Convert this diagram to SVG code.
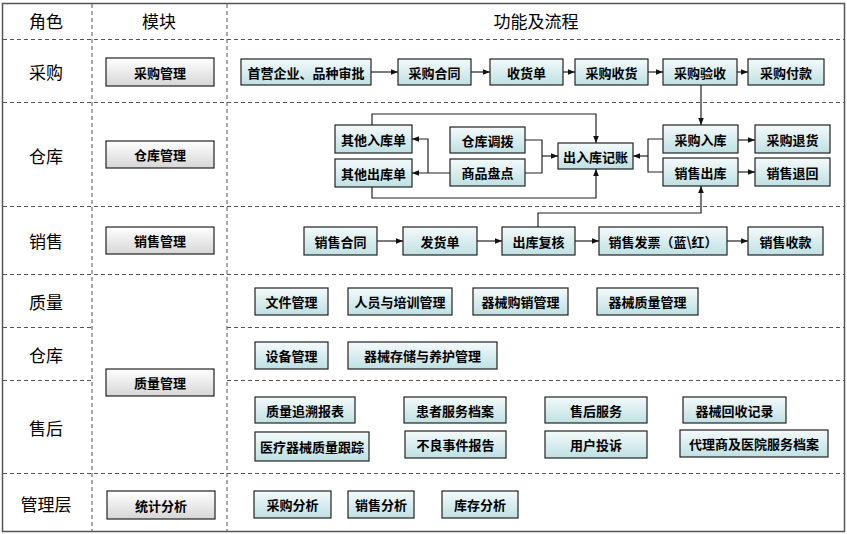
<svg xmlns="http://www.w3.org/2000/svg" width="847" height="534" viewBox="0 0 847 534">
<defs>
<linearGradient id="gFlow" x1="0" y1="0" x2="0" y2="1">
<stop offset="0" stop-color="#f4fafb"/>
<stop offset="1" stop-color="#bfe0e3"/>
</linearGradient>
<linearGradient id="gMod" x1="0" y1="0" x2="0" y2="1">
<stop offset="0" stop-color="#ffffff"/>
<stop offset="1" stop-color="#d6d6d6"/>
</linearGradient>
<marker id="arr" viewBox="0 0 10 10" refX="10" refY="5" markerWidth="7" markerHeight="7" orient="auto" markerUnits="userSpaceOnUse">
<path d="M0,1 L10,5 L0,9 z" fill="#111"/>
</marker>
</defs>
<style>
.frame{fill:#fff;stroke:#555;stroke-width:1.5}
.grid{stroke:#555;stroke-width:1;stroke-dasharray:4,3;fill:none}
.role{font-family:"Noto Sans CJK SC","Noto Sans",sans-serif;font-size:17px;fill:#000;text-anchor:middle;dominant-baseline:central}
.flow rect{fill:url(#gFlow);stroke:#222;stroke-width:1.2}
.mod rect{fill:url(#gMod);stroke:#222;stroke-width:1.2}
.lbl{font-family:"Noto Sans CJK SC","Noto Sans",sans-serif;font-size:13px;font-weight:bold;fill:#000;text-anchor:middle;dominant-baseline:central}
.con{stroke:#222;stroke-width:1.2;fill:none}
</style>
<rect class="frame" x="2.5" y="3.5" width="842" height="528"/>
<g id="grid">
<line class="grid" x1="92" y1="4" x2="92" y2="531"/>
<line class="grid" x1="227" y1="4" x2="227" y2="531"/>
<line class="grid" x1="3" y1="39.5" x2="844" y2="39.5"/>
<line class="grid" x1="3" y1="102.5" x2="844" y2="102.5"/>
<line class="grid" x1="3" y1="206.5" x2="844" y2="206.5"/>
<line class="grid" x1="3" y1="274.5" x2="844" y2="274.5"/>
<line class="grid" x1="3" y1="327.5" x2="92" y2="327.5"/>
<line class="grid" x1="227" y1="327.5" x2="844" y2="327.5"/>
<line class="grid" x1="3" y1="380.5" x2="92" y2="380.5"/>
<line class="grid" x1="227" y1="380.5" x2="844" y2="380.5"/>
<line class="grid" x1="3" y1="473.5" x2="844" y2="473.5"/>
</g>
<g id="headers">
<text class="role" x="46" y="20">角色</text>
<text class="role" x="159" y="20">模块</text>
<text class="role" x="536" y="20">功能及流程</text>
<text class="role" x="46" y="71">采购</text>
<text class="role" x="46" y="155">仓库</text>
<text class="role" x="46" y="240">销售</text>
<text class="role" x="46" y="301">质量</text>
<text class="role" x="46" y="354">仓库</text>
<text class="role" x="46" y="427">售后</text>
<text class="role" x="46" y="503">管理层</text>
</g>
<g id="m1" class="mod"><rect x="106" y="58" width="108" height="28"/><text class="lbl" x="160" y="72">采购管理</text></g>
<g id="m2" class="mod"><rect x="106" y="141" width="108" height="27"/><text class="lbl" x="160" y="154.5">仓库管理</text></g>
<g id="m3" class="mod"><rect x="106" y="227" width="108" height="27"/><text class="lbl" x="160" y="240.5">销售管理</text></g>
<g id="m4" class="mod"><rect x="106" y="369" width="108" height="27"/><text class="lbl" x="160" y="382.5">质量管理</text></g>
<g id="m5" class="mod"><rect x="107" y="491" width="108" height="28"/><text class="lbl" x="161" y="505">统计分析</text></g>

<g id="p1" class="flow"><rect x="241" y="59" width="130" height="26"/><text class="lbl" x="306" y="72">首营企业、品种审批</text></g>
<g id="p2" class="flow"><rect x="398" y="59" width="73" height="26"/><text class="lbl" x="434.5" y="72">采购合同</text></g>
<g id="p3" class="flow"><rect x="490" y="59" width="73" height="26"/><text class="lbl" x="526.5" y="72">收货单</text></g>
<g id="p4" class="flow"><rect x="575" y="59" width="73" height="26"/><text class="lbl" x="611.5" y="72">采购收货</text></g>
<g id="p5" class="flow"><rect x="663" y="59" width="74" height="26"/><text class="lbl" x="700" y="72">采购验收</text></g>
<g id="p6" class="flow"><rect x="748" y="59" width="76" height="26"/><text class="lbl" x="786" y="72">采购付款</text></g>

<g id="w1" class="flow"><rect x="335" y="125" width="77" height="28"/><text class="lbl" x="373.5" y="139">其他入库单</text></g>
<g id="w2" class="flow"><rect x="335" y="159" width="77" height="28"/><text class="lbl" x="373.5" y="173">其他出库单</text></g>
<g id="w3" class="flow"><rect x="450" y="127" width="75" height="26"/><text class="lbl" x="487.5" y="140">仓库调拨</text></g>
<g id="w4" class="flow"><rect x="450" y="159" width="75" height="27"/><text class="lbl" x="487.5" y="172.5">商品盘点</text></g>
<g id="w5" class="flow"><rect x="558" y="143" width="75" height="26"/><text class="lbl" x="595.5" y="156">出入库记账</text></g>
<g id="w6" class="flow"><rect x="663" y="125" width="75" height="28"/><text class="lbl" x="700.5" y="139">采购入库</text></g>
<g id="w7" class="flow"><rect x="755" y="125" width="75" height="28"/><text class="lbl" x="792.5" y="139">采购退货</text></g>
<g id="w8" class="flow"><rect x="663" y="158" width="75" height="28"/><text class="lbl" x="700.5" y="172">销售出库</text></g>
<g id="w9" class="flow"><rect x="755" y="158" width="75" height="28"/><text class="lbl" x="792.5" y="172">销售退回</text></g>

<g id="s1" class="flow"><rect x="304" y="227" width="73" height="28"/><text class="lbl" x="340.5" y="241">销售合同</text></g>
<g id="s2" class="flow"><rect x="403" y="227" width="74" height="28"/><text class="lbl" x="440" y="241">发货单</text></g>
<g id="s3" class="flow"><rect x="502" y="227" width="73" height="28"/><text class="lbl" x="538.5" y="241">出库复核</text></g>
<g id="s4" class="flow"><rect x="599" y="227" width="128" height="28"/><text class="lbl" x="663" y="241">销售发票（蓝\红）</text></g>
<g id="s5" class="flow"><rect x="748" y="227" width="75" height="28"/><text class="lbl" x="785.5" y="241">销售收款</text></g>

<g id="q1" class="flow"><rect x="255" y="288" width="73" height="27"/><text class="lbl" x="291.5" y="301.5">文件管理</text></g>
<g id="q2" class="flow"><rect x="348" y="288" width="104" height="27"/><text class="lbl" x="400" y="301.5">人员与培训管理</text></g>
<g id="q3" class="flow"><rect x="473" y="288" width="95" height="27"/><text class="lbl" x="520.5" y="301.5">器械购销管理</text></g>
<g id="q4" class="flow"><rect x="597" y="288" width="101" height="27"/><text class="lbl" x="647.5" y="301.5">器械质量管理</text></g>

<g id="k1" class="flow"><rect x="255" y="342" width="73" height="27"/><text class="lbl" x="291.5" y="355.5">设备管理</text></g>
<g id="k2" class="flow"><rect x="348" y="342" width="149" height="27"/><text class="lbl" x="422.5" y="355.5">器械存储与养护管理</text></g>

<g id="a1" class="flow"><rect x="255" y="397" width="100" height="26"/><text class="lbl" x="305" y="410">质量追溯报表</text></g>
<g id="a2" class="flow"><rect x="404" y="397" width="102" height="26"/><text class="lbl" x="455" y="410">患者服务档案</text></g>
<g id="a3" class="flow"><rect x="545" y="397" width="102" height="26"/><text class="lbl" x="596" y="410">售后服务</text></g>
<g id="a4" class="flow"><rect x="683" y="397" width="103" height="26"/><text class="lbl" x="734.5" y="410">器械回收记录</text></g>
<g id="a5" class="flow"><rect x="255" y="432" width="114" height="29"/><text class="lbl" x="312" y="446.5">医疗器械质量跟踪</text></g>
<g id="a6" class="flow"><rect x="405" y="431" width="101" height="27"/><text class="lbl" x="455.5" y="444.5">不良事件报告</text></g>
<g id="a7" class="flow"><rect x="545" y="431" width="102" height="27"/><text class="lbl" x="596" y="444.5">用户投诉</text></g>
<g id="a8" class="flow"><rect x="680" y="430" width="148" height="27"/><text class="lbl" x="754" y="443.5">代理商及医院服务档案</text></g>

<g id="t1" class="flow"><rect x="254" y="491" width="77" height="27"/><text class="lbl" x="292.5" y="504.5">采购分析</text></g>
<g id="t2" class="flow"><rect x="348" y="491" width="66" height="27"/><text class="lbl" x="381" y="504.5">销售分析</text></g>
<g id="t3" class="flow"><rect x="442" y="491" width="76" height="27"/><text class="lbl" x="480" y="504.5">库存分析</text></g>

<g id="connectors">
<path class="con" d="M371,72 H398" marker-end="url(#arr)"/>
<path class="con" d="M471,72 H490" marker-end="url(#arr)"/>
<path class="con" d="M563,72 H575" marker-end="url(#arr)"/>
<path class="con" d="M648,72 H663" marker-end="url(#arr)"/>
<path class="con" d="M737,72 H748" marker-end="url(#arr)"/>
<path class="con" d="M701,85 V125" marker-end="url(#arr)"/>
<path class="con" d="M372,125 V114 H596 V143" marker-end="url(#arr)"/>
<path class="con" d="M372,187 V198 H596 V169" marker-end="url(#arr)"/>
<path class="con" d="M450,173 H412" marker-end="url(#arr)"/>
<path class="con" d="M428,173 V139 H412" marker-end="url(#arr)"/>
<path class="con" d="M525,140 H542 V173 H525"/>
<path class="con" d="M542,156 H558" marker-end="url(#arr)"/>
<path class="con" d="M663,139 H648 V172 H663"/>
<path class="con" d="M648,156 H633" marker-end="url(#arr)"/>
<path class="con" d="M738,140 H755" marker-end="url(#arr)"/>
<path class="con" d="M738,172 H755" marker-end="url(#arr)"/>
<path class="con" d="M538,227 V213 H701 V186" marker-end="url(#arr)"/>
<path class="con" d="M377,241 H403" marker-end="url(#arr)"/>
<path class="con" d="M477,241 H502" marker-end="url(#arr)"/>
<path class="con" d="M575,241 H599" marker-end="url(#arr)"/>
<path class="con" d="M727,241 H748" marker-end="url(#arr)"/>
</g>
</svg>
